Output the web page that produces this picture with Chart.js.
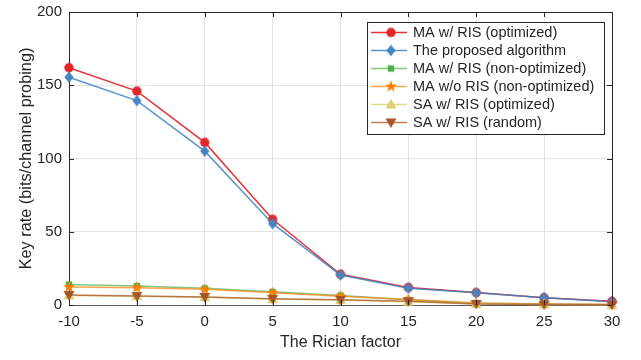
<!DOCTYPE html>
<html>
<head>
<meta charset="utf-8">
<title>Key rate vs Rician factor</title>
<script src="https://cdn.jsdelivr.net/npm/chart.js@4.4.1/dist/chart.umd.min.js"></script>
<style>
    html, body { margin: 0; padding: 0; background: #ffffff; }
    #wrap { width: 641px; height: 360px; }
</style>
</head>
<body>
<div id="wrap"><canvas id="rateChart" width="641" height="360"></canvas></div>
<script>
// Values
const ricianFactor = [-10, -5, 0, 5, 10, 15, 20, 25, 30];
const maRisOptimized = [162, 146, 111, 58.5, 21, 12, 8.5, 5, 2.5];
const proposedAlgorithm = [155.5, 139.5, 105, 55.5, 20.5, 11.5, 8.3, 5, 2.3];
const maRisNonOptimized = [14, 13, 11.4, 9, 6.5, 3.5, 1.2, 0.6, 0.3];
const maNoRisNonOptimized = [12.3, 11.8, 10.7, 8.3, 6, 3.8, 1.3, 0.7, 0.4];
const saRisOptimized = [6.5, 6, 5.3, 4, 3.3, 2.3, 0.8, 0.4, 0.2];
const saRisRandom = [6.8, 6.1, 5.5, 4.2, 3.5, 2.6, 0.7, 0.3, 0.2];

const seriesLabels = [
    'MA w/ RIS (optimized)',
    'The proposed algorithm',
    'MA w/ RIS (non-optimized)',
    'MA w/o RIS (non-optimized)',
    'SA w/ RIS (optimized)',
    'SA w/ RIS (random)'
];
const xTicks = { min: -10, max: 30, step: 5 };
const yTicks = { min: 0, max: 200, step: 50 };

const FONT = "'Liberation Sans', Arial, Helvetica, sans-serif";
const INK = '#262626';

// Small canvas with a filled marker, used as pointStyle
function makeMarker(shape, color) {
    const size = 16;
    const c = document.createElement('canvas');
    c.width = size;
    c.height = size;
    const g = c.getContext('2d');
    const m = size / 2;
    g.fillStyle = color;
    g.beginPath();
    if (shape === 'circle') {
        g.arc(m, m, 4.7, 0, Math.PI * 2);
    } else if (shape === 'diamond') {
        g.moveTo(m, m - 5.8);
        g.lineTo(m + 4.6, m);
        g.lineTo(m, m + 5.8);
        g.lineTo(m - 4.6, m);
    } else if (shape === 'square') {
        g.rect(m - 3.2, m - 3.2, 6.4, 6.4);
    } else if (shape === 'star') {
        for (let i = 0; i < 10; i++) {
            const r = i % 2 === 0 ? 6.2 : 2.6;
            const a = -Math.PI / 2 + i * Math.PI / 5;
            const px = m + r * Math.cos(a);
            const py = m + r * Math.sin(a);
            if (i === 0) g.moveTo(px, py); else g.lineTo(px, py);
        }
    } else if (shape === 'up') {
        g.moveTo(m, m - 5.5);
        g.lineTo(m + 5.5, m + 4);
        g.lineTo(m - 5.5, m + 4);
    } else if (shape === 'down') {
        g.moveTo(m, m + 5.5);
        g.lineTo(m + 5.5, m - 4);
        g.lineTo(m - 5.5, m - 4);
    }
    g.closePath();
    g.fill();
    return c;
}

const seriesValues = [maRisOptimized, proposedAlgorithm, maRisNonOptimized,
                      maNoRisNonOptimized, saRisOptimized, saRisRandom];
const lineColors = ['rgba(228,30,35,0.9)', 'rgba(60,130,190,0.85)', 'rgba(77,175,74,0.7)',
                    'rgba(255,127,0,0.7)', 'rgba(222,208,110,0.8)', 'rgba(166,86,40,0.75)'];
const markerColors = ['#e4262b', '#4585c2', '#4daf4a', '#ff7f00', '#ded06e', '#a65628'];
const markerShapes = ['circle', 'diamond', 'square', 'star', 'up', 'down'];

const markers = markerShapes.map((s, i) => makeMarker(s, markerColors[i]));

const datasets = seriesValues.map((vals, i) => ({
    label: seriesLabels[i],
    data: vals.map((v, k) => ({ x: ricianFactor[k], y: v })),
    borderColor: lineColors[i],
    backgroundColor: markerColors[i],
    borderWidth: 1.5,
    pointStyle: markers[i],
    pointRadius: 5,
    tension: 0,
    clip: false,
    order: seriesValues.length - i // later series drawn on top
}));

// Box, inward tick marks and the legend inside the plot
const boxPlugin = {
    id: 'boxPlugin',
    afterDraw(chart) {
        const ctx = chart.ctx;
        const a = chart.chartArea;
        const xs = chart.scales.x;
        const ys = chart.scales.y;
        ctx.save();
        ctx.strokeStyle = INK;
        ctx.lineWidth = 1;
        ctx.beginPath();
        ctx.moveTo(a.left, a.top + 0.5);
        ctx.lineTo(a.right + 0.5, a.top + 0.5);
        ctx.lineTo(a.right + 0.5, a.bottom);
        ctx.stroke();

        const tl = 5;
        ctx.beginPath();
        xs.ticks.forEach(t => {
            const px = Math.round(xs.getPixelForValue(t.value)) + 0.5;
            ctx.moveTo(px, a.bottom);
            ctx.lineTo(px, a.bottom - tl);
            ctx.moveTo(px, a.top);
            ctx.lineTo(px, a.top + tl);
        });
        ys.ticks.forEach(t => {
            const py = Math.round(ys.getPixelForValue(t.value)) + 0.5;
            ctx.moveTo(a.left, py);
            ctx.lineTo(a.left + tl, py);
            ctx.moveTo(a.right, py);
            ctx.lineTo(a.right - tl, py);
        });
        ctx.stroke();

        // legend
        const lx = 367.5, ly = 22.5, lw = 237, lh = 112;
        ctx.fillStyle = '#ffffff';
        ctx.fillRect(lx, ly, lw, lh);
        ctx.strokeStyle = INK;
        ctx.strokeRect(lx, ly, lw, lh);
        ctx.font = '14.5px ' + FONT;
        ctx.textBaseline = 'middle';
        ctx.textAlign = 'left';
        chart.data.datasets.forEach((ds, i) => {
            const ry = 32.5 + i * 18;
            ctx.strokeStyle = ds.borderColor;
            ctx.lineWidth = 1.5;
            ctx.beginPath();
            ctx.moveTo(371, ry);
            ctx.lineTo(407, ry);
            ctx.stroke();
            ctx.drawImage(ds.pointStyle, 391 - 8, ry - 8);
            ctx.fillStyle = INK;
            ctx.fillText(ds.label, 413, ry + 0.5);
        });
        ctx.restore();
    }
};

Chart.defaults.font.family = FONT;
Chart.defaults.color = INK;

new Chart(document.getElementById('rateChart').getContext('2d'), {
    type: 'line',
    data: { datasets: datasets },
    plugins: [boxPlugin],
    options: {
        responsive: false,
        animation: false,
        layout: { padding: { left: 0, right: 29, top: 12, bottom: 0 } },
        plugins: {
            legend: { display: false },
            tooltip: { enabled: false }
        },
        scales: {
            x: {
                type: 'linear',
                min: xTicks.min,
                max: xTicks.max,
                ticks: { stepSize: xTicks.step, font: { size: 15 }, color: INK, padding: 8, maxRotation: 0 },
                grid: { color: '#e3e3e3', drawTicks: false },
                border: { color: '#5a5a5a', width: 1 },
                title: {
                    display: true,
                    text: 'The Rician factor',
                    font: { size: 16 },
                    color: INK,
                    padding: { top: 0, bottom: 8 }
                },
                afterFit: s => { s.height = 55; s.paddingLeft = 0; s.paddingRight = 0; }
            },
            y: {
                min: yTicks.min,
                max: yTicks.max,
                ticks: { stepSize: yTicks.step, font: { size: 15 }, color: INK, padding: 7 },
                grid: { color: '#e3e3e3', drawTicks: false },
                border: { color: INK, width: 1 },
                title: {
                    display: true,
                    text: 'Key rate (bits/channel probing)',
                    font: { size: 16.3 },
                    color: INK,
                    padding: { top: 17, bottom: 0 }
                },
                afterFit: s => { s.width = 69; s.paddingTop = 0; s.paddingBottom = 0; }
            }
        }
    }
});
</script>
</body>
</html>
